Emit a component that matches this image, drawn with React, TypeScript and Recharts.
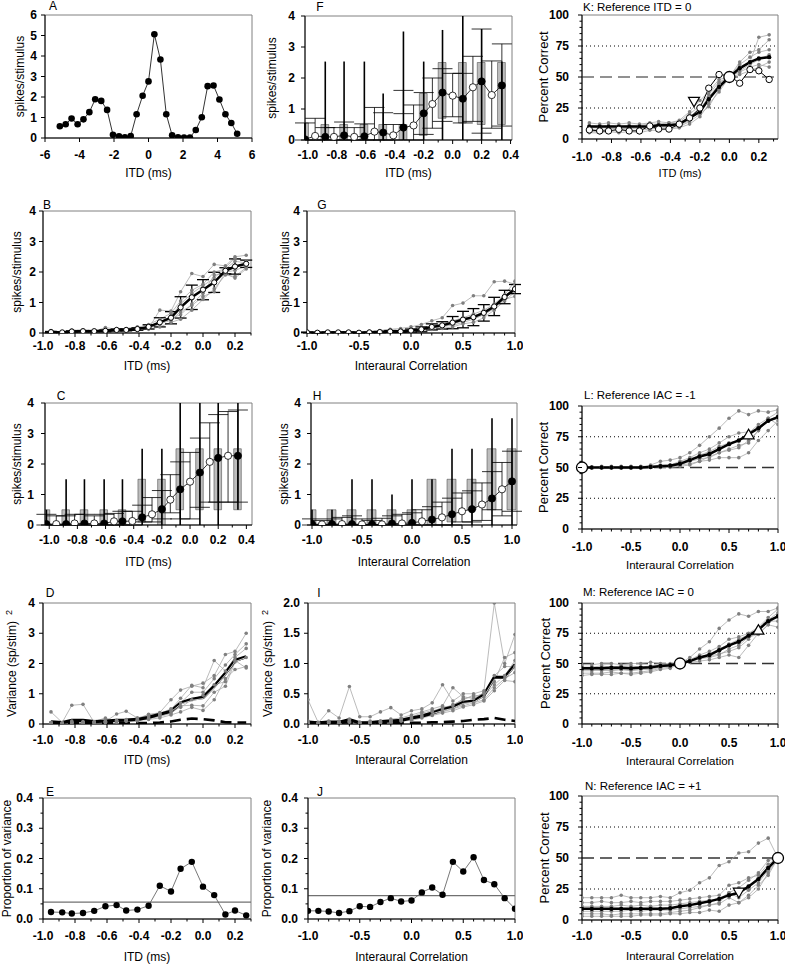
import React from 'react';
import { Bar, ComposedChart, ErrorBar, Line, ReferenceArea, ReferenceDot, ReferenceLine, XAxis, YAxis } from 'recharts';

const FONT = '"Liberation Sans", Arial, Helvetica, sans-serif';

// ---- x values ----
const itdWide = [-5.14, -4.8, -4.46, -4.11, -3.77, -3.43, -3.09, -2.74, -2.4, -2.06, -1.71, -1.37, -1.03, -0.69, -0.34, 0, 0.34, 0.69, 1.03, 1.37, 1.71, 2.06, 2.4, 2.74, 3.09, 3.43, 3.77, 4.11, 4.46, 4.8, 5.14];
const itd19 = [-0.95, -0.88, -0.82, -0.75, -0.68, -0.61, -0.54, -0.48, -0.41, -0.34, -0.27, -0.2, -0.14, -0.07, 0, 0.07, 0.14, 0.2, 0.27];
const itd21 = [-1.02, -0.95, -0.88, -0.82, -0.75, -0.68, -0.61, -0.54, -0.48, -0.41, -0.34, -0.27, -0.2, -0.14, -0.07, 0, 0.07, 0.14, 0.2, 0.27, 0.34];
const iac21 = [-1.0, -0.9, -0.8, -0.7, -0.6, -0.5, -0.4, -0.3, -0.2, -0.1, 0, 0.1, 0.2, 0.3, 0.4, 0.5, 0.6, 0.7, 0.8, 0.9, 1.0];

// ---- ticks ----
const wideTicks = [-6, -4, -2, 0, 2, 4, 6];
const itdTicks = [-1.0, -0.9, -0.8, -0.7, -0.6, -0.5, -0.4, -0.3, -0.2, -0.1, 0, 0.1, 0.2, 0.3];
const itdLabels = [-1.0, -0.8, -0.6, -0.4, -0.2, 0, 0.2];
const itdBoxTicks = [-1.0, -0.9, -0.8, -0.7, -0.6, -0.5, -0.4, -0.3, -0.2, -0.1, 0, 0.1, 0.2, 0.3, 0.4];
const itdBoxLabels = [-1.0, -0.8, -0.6, -0.4, -0.2, 0, 0.2, 0.4];
const iacTicks = [-1.0, -0.9, -0.8, -0.7, -0.6, -0.5, -0.4, -0.3, -0.2, -0.1, 0, 0.1, 0.2, 0.3, 0.4, 0.5, 0.6, 0.7, 0.8, 0.9, 1.0];
const iacLabels = [-1.0, -0.5, 0, 0.5, 1.0];
const rateTicksA = [0, 1, 2, 3, 4, 5, 6];
const spikeTicks = [0, 1, 2, 3, 4];
const varTicksI = [0, 0.5, 1.0, 1.5, 2.0];
const propTicks = [0, 0.05, 0.1, 0.15, 0.2, 0.25, 0.3, 0.35, 0.4];
const propLabels = [0, 0.1, 0.2, 0.3, 0.4];
const pctTicks = [0, 5, 10, 15, 20, 25, 30, 35, 40, 45, 50, 55, 60, 65, 70, 75, 80, 85, 90, 95, 100];
const pctLabels = [0, 25, 50, 75, 100];

// ---- A ----
const aRate = [0.57, 0.67, 0.95, 0.67, 0.91, 1.26, 1.89, 1.81, 1.37, 0.16, 0.08, 0.03, 0.1, 1.16, 2.06, 2.76, 5.06, 3.83, 1.16, 0.13, 0.03, 0.02, 0.02, 0.39, 1.01, 2.53, 2.56, 1.88, 1.16, 0.73, 0.21];

// ---- B ----
const bMean = [0.03, 0.02, 0.05, 0.06, 0.06, 0.07, 0.1, 0.1, 0.13, 0.2, 0.35, 0.5, 0.84, 1.17, 1.42, 1.66, 2.04, 2.18, 2.27];
const bErr = [0.02, 0.01, 0.02, 0.02, 0.02, 0.03, 0.03, 0.03, 0.04, 0.07, 0.15, 0.2, 0.35, 0.4, 0.33, 0.33, 0.1, 0.25, 0.12];
const bG1 = [0.08, 0.03, 0.1, 0.08, 0.05, 0.18, 0.12, 0.15, 0.2, 0.15, 0.75, 0.72, 1.35, 1.95, 1.85, 2.25, 2.2, 2.5, 2.55];
const bG2 = [0.02, 0.01, 0.02, 0.03, 0.05, 0.04, 0.08, 0.06, 0.1, 0.12, 0.2, 0.35, 0.45, 0.75, 1.1, 1.45, 1.9, 1.85, 2.15];
const bG3 = [0.05, 0.03, 0.06, 0.1, 0.08, 0.1, 0.15, 0.12, 0.18, 0.28, 0.45, 0.65, 1.05, 1.4, 1.6, 2.0, 2.1, 2.35, 2.3];
const bG4 = [0.01, 0.01, 0.03, 0.04, 0.03, 0.06, 0.07, 0.09, 0.1, 0.15, 0.3, 0.42, 0.7, 0.9, 1.2, 1.35, 2.0, 2.05, 2.2];
const bG5 = [0.03, 0.02, 0.05, 0.05, 0.07, 0.05, 0.11, 0.1, 0.12, 0.22, 0.28, 0.55, 0.95, 1.3, 1.55, 1.8, 2.15, 2.45, 2.35];
const bG6 = [0.04, 0.02, 0.04, 0.06, 0.08, 0.09, 0.09, 0.12, 0.15, 0.2, 0.38, 0.48, 0.6, 0.95, 1.3, 1.9, 1.95, 1.8, 2.1];

// ---- G ----
const gMean = [0.02, 0.01, 0.02, 0.02, 0.02, 0.01, 0.02, 0.03, 0.05, 0.05, 0.08, 0.12, 0.2, 0.25, 0.34, 0.44, 0.52, 0.66, 0.87, 1.18, 1.44];
const gErr = [0.01, 0.01, 0.01, 0.01, 0.01, 0.01, 0.01, 0.02, 0.03, 0.03, 0.05, 0.08, 0.1, 0.12, 0.2, 0.27, 0.28, 0.27, 0.3, 0.22, 0.15];
const gG1 = [0.02, 0.02, 0.03, 0.03, 0.05, 0.04, 0.06, 0.08, 0.12, 0.15, 0.2, 0.28, 0.4, 0.5, 0.9, 0.98, 1.22, 1.22, 1.68, 1.7, 1.6];
const gG2 = [0.0, 0.01, 0.01, 0.02, 0.01, 0.01, 0.02, 0.02, 0.03, 0.04, 0.05, 0.08, 0.12, 0.15, 0.2, 0.3, 0.35, 0.5, 0.75, 1.05, 1.35];
const gG3 = [0.03, 0.02, 0.03, 0.03, 0.04, 0.02, 0.03, 0.05, 0.08, 0.08, 0.12, 0.15, 0.25, 0.3, 0.4, 0.5, 0.62, 0.75, 0.95, 1.25, 1.7];
const gG4 = [0.01, 0.01, 0.02, 0.02, 0.02, 0.01, 0.02, 0.03, 0.04, 0.05, 0.06, 0.1, 0.15, 0.22, 0.25, 0.35, 0.45, 0.6, 0.8, 1.1, 1.2];
const gG5 = [0.02, 0.02, 0.02, 0.03, 0.03, 0.02, 0.03, 0.04, 0.06, 0.06, 0.1, 0.14, 0.22, 0.28, 0.38, 0.48, 0.55, 0.7, 0.9, 1.2, 1.5];
const gG6 = [0.01, 0.0, 0.01, 0.01, 0.02, 0.01, 0.01, 0.02, 0.04, 0.03, 0.07, 0.1, 0.18, 0.2, 0.3, 0.4, 0.5, 0.62, 0.82, 1.15, 1.45];

// ---- F (box plots, ITD) ----
const fMed = [0.02, 0.13, 0.1, 0.1, 0.15, 0.1, 0.12, 0.27, 0.24, 0.15, 0.4, 0.47, 0.86, 1.16, 1.53, 1.43, 1.33, 1.7, 1.89, 1.45, 1.76];
const fBoxLo = [0, null, 0, null, 0, null, 0, null, 0, null, 0, null, 0.15, null, 0.7, null, 0.55, null, 0.5, null, 0.5];
const fBoxHi = [0.55, null, 0.5, null, 0.5, null, 0.5, null, 0.5, null, 0.5, null, 1.5, null, 2.5, null, 2.5, null, 2.5, null, 2.5];
const fWhLo = [0, null, 0, null, 0, null, 0, null, 0, null, 0, null, 0, null, 0, null, 0, null, 0, null, 0];
const fWhHi = [0.55, null, 2.53, null, 2.53, null, 2.53, null, 1.5, null, 3.5, null, 2.53, null, 3.55, null, 4.0, null, 3.58, null, 2.53];
const fErrLo = [0, 0, 0, 0, 0, 0, 0, 0, 0, 0, 0.85, 0, 0.18, 0.38, 0.6, 0.75, 0.55, 0.6, 0.22, 0.38, 0.45];
const fErrHi = [0.55, 0.7, 0.4, 0.4, 0.58, 0.4, 0.52, 1.05, 0.88, 0.5, 1.6, 1.13, 1.53, 2.0, 2.3, 2.15, 2.15, 2.7, 3.58, 2.55, 3.1];

// ---- C (box plots, ITD) ----
const cMed = [0.03, 0.03, 0.03, 0.05, 0.05, 0.05, 0.05, 0.12, 0.12, 0.13, 0.25, 0.35, 0.52, 0.83, 1.17, 1.42, 1.72, 2.07, 2.2, 2.27, 2.27];
const cBoxLo = [0, null, 0, null, 0, null, 0, null, 0, null, 0.1, null, 0, null, 0.5, null, 0.5, null, 0.5, null, 0.5];
const cBoxHi = [0.5, null, 0.5, null, 0.5, null, 0.5, null, 0.5, null, 1.5, null, 1.5, null, 2.5, null, 2.5, null, 2.5, null, 2.5];
const cWhLo = [0, null, 0, null, 0, null, 0, null, 0, null, 0, null, 0, null, 0, null, 0, null, 0, null, 0.5];
const cWhHi = [0.5, null, 1.5, null, 1.5, null, 1.5, null, 1.5, null, 2.5, null, 2.5, null, 4.0, null, 4.0, null, 4.0, null, 4.0];
const cErrLo = [0, 0, 0, 0, 0, 0, 0, 0, 0, 0, 0.1, 0.1, 0.2, 0.4, 0.2, 0.2, 0.58, 0.75, 0.75, 0.75, 0.75];
const cErrHi = [0.35, 0.3, 0.3, 0.35, 0.35, 0.3, 0.35, 0.38, 0.45, 0.45, 0.65, 0.9, 1.13, 1.65, 2.07, 2.38, 2.85, 3.35, 3.62, 3.72, 3.77];

// ---- H (box plots, IAC) ----
const hMed = [0.03, 0.02, 0.03, 0.03, 0.03, 0.02, 0.02, 0.02, 0.05, 0.05, 0.07, 0.12, 0.18, 0.25, 0.35, 0.45, 0.52, 0.67, 0.87, 1.17, 1.43];
const hBoxLo = [0, null, 0, null, 0, null, 0, null, 0, null, 0, null, 0, null, 0.1, null, 0.5, null, 0.5, null, 0.5];
const hBoxHi = [0.5, null, 0.5, null, 0.5, null, 0.5, null, 0.5, null, 0.5, null, 1.5, null, 1.5, null, 1.5, null, 2.5, null, 2.5];
const hWhLo = [0, null, 0, null, 0, null, 0, null, 0, null, 0, null, 0, null, 0, null, 0, null, 0, null, 0];
const hWhHi = [0.5, null, 0.5, null, 1.5, null, 1.5, null, 1.0, null, 1.5, null, 1.5, null, 2.5, null, 2.5, null, 3.5, null, 3.5];
const hErrLo = [0, 0, 0, 0, 0, 0, 0, 0, 0, 0, 0, 0, 0, 0, 0, 0.1, 0.1, 0.15, 0.5, 0.3, 0.45];
const hErrHi = [0.2, 0.15, 0.2, 0.25, 0.3, 0.2, 0.15, 0.22, 0.3, 0.35, 0.4, 0.5, 0.6, 0.75, 0.88, 1.05, 1.12, 1.38, 1.75, 2.05, 2.42];

// ---- D (variance, ITD) ----
const dMean = [0.07, 0.05, 0.12, 0.12, 0.08, 0.1, 0.12, 0.13, 0.15, 0.22, 0.32, 0.42, 0.7, 0.82, 0.88, 1.25, 1.68, 2.1, 2.22];
const dInner = [null, null, null, null, null, null, null, null, null, null, null, 0.4, 0.66, 0.78, 0.84, 1.2, 1.63, 2.06, 2.2];
const dResid = [0.02, 0.02, 0.02, 0.02, 0.02, 0.02, 0.02, 0.03, 0.03, 0.03, 0.05, 0.08, 0.14, 0.18, 0.16, 0.12, 0.06, 0.05, 0.05];
const dG1 = [0.4, 0.05, 0.62, 0.65, 0.05, 0.08, 0.33, 0.42, 0.2, 0.3, 0.38, 0.8, 1.12, 1.25, 1.35, 1.6, 2.3, 2.4, 3.0];
const dG2 = [0.05, 0.02, 0.05, 0.04, 0.08, 0.2, 0.1, 0.1, 0.15, 0.32, 0.35, 0.5, 0.7, 1.05, 1.05, 1.5, 1.95, 2.3, 2.65];
const dG3 = [0.02, 0.03, 0.1, 0.06, 0.05, 0.05, 0.08, 0.1, 0.12, 0.18, 0.25, 0.35, 0.6, 0.62, 0.6, 1.05, 1.25, 2.05, 2.2];
const dG4 = [0.05, 0.02, 0.03, 0.08, 0.04, 0.06, 0.12, 0.1, 0.12, 0.15, 0.2, 0.3, 0.4, 0.55, 0.45, 0.8, 1.5, 1.8, 1.9];
const dG5 = [0.03, 0.01, 0.05, 0.05, 0.07, 0.08, 0.1, 0.15, 0.2, 0.25, 0.32, 0.48, 0.85, 1.28, 1.2, 2.1, 1.75, 2.2, 2.5];
const dG6 = [0.04, 0.02, 0.06, 0.05, 0.06, 0.1, 0.07, 0.12, 0.1, 0.2, 0.28, 0.42, 0.55, 0.8, 0.95, 1.3, 1.4, 2.1, 1.85];

// ---- I (variance, IAC) ----
const iMean = [0.03, 0.02, 0.03, 0.03, 0.07, 0.02, 0.02, 0.04, 0.05, 0.06, 0.1, 0.13, 0.18, 0.24, 0.28, 0.36, 0.38, 0.48, 0.77, 0.77, 0.98];
const iInner = [null, null, null, null, null, null, null, null, null, null, null, null, 0.17, 0.22, 0.26, 0.34, 0.36, 0.46, 0.74, 0.74, 0.96];
const iResid = [0.02, 0.01, 0.02, 0.02, 0.03, 0.01, 0.01, 0.02, 0.02, 0.02, 0.02, 0.02, 0.03, 0.03, 0.04, 0.05, 0.07, 0.08, 0.1, 0.07, 0.05];
const iG1 = [0.4, 0.02, 0.22, 0.1, 0.62, 0.12, 0.12, 0.2, 0.27, 0.15, 0.22, 0.25, 0.35, 0.65, 0.38, 0.5, 0.5, 0.55, 2.0, 1.0, 1.48];
const iG2 = [0.05, 0.03, 0.05, 0.02, 0.08, 0.03, 0.05, 0.05, 0.08, 0.1, 0.15, 0.2, 0.25, 0.3, 0.6, 0.45, 0.42, 0.52, 0.7, 1.1, 1.18];
const iG3 = [0.02, 0.01, 0.02, 0.04, 0.04, 0.02, 0.03, 0.03, 0.05, 0.05, 0.08, 0.12, 0.15, 0.2, 0.25, 0.3, 0.35, 0.4, 0.6, 0.75, 0.85];
const iG4 = [0.03, 0.02, 0.04, 0.03, 0.05, 0.02, 0.02, 0.04, 0.06, 0.08, 0.12, 0.18, 0.22, 0.25, 0.32, 0.4, 0.48, 0.45, 0.65, 0.8, 1.05];
const iG5 = [0.01, 0.01, 0.02, 0.02, 0.03, 0.01, 0.02, 0.02, 0.04, 0.05, 0.06, 0.1, 0.14, 0.18, 0.22, 0.28, 0.32, 0.38, 0.55, 0.72, 0.7];
const iG6 = [0.02, 0.02, 0.03, 0.03, 0.05, 0.03, 0.03, 0.05, 0.05, 0.07, 0.1, 0.15, 0.2, 0.28, 0.3, 0.42, 0.45, 0.5, 0.8, 0.95, 0.95];

// ---- E, J (proportion of variance) ----
const eProp = [0.023, 0.022, 0.018, 0.02, 0.027, 0.042, 0.046, 0.028, 0.031, 0.044, 0.11, 0.091, 0.166, 0.189, 0.107, 0.079, 0.015, 0.028, 0.012];
const eLevel = 0.056;
const jProp = [0.027, 0.027, 0.025, 0.02, 0.026, 0.042, 0.04, 0.056, 0.069, 0.058, 0.061, 0.088, 0.104, 0.08, 0.189, 0.157, 0.204, 0.129, 0.115, 0.069, 0.034];
const jLevel = 0.077;

// ---- K (percent correct, reference ITD = 0) ----
const kMean = [10, 10, 10, 10, 10, 10, 10, 11, 11, 12, 17, 22, 32, 42, 50, 57, 62, 65, 66];
const kOpen = [7.3, 6.5, 6.5, 7.8, 6.5, 6.5, 10.5, 8, 8, 12, 17, 25, 41, 52, 51, 45, 56, 55, 48];
const kG1 = [13, 12, 13, 12, 13, 12, 13, 14, 13, 15, 22, 31, 38, 48, 50, 58, 62, 82, 84];
const kG2 = [5, 5, 6, 5, 6, 5, 7, 7, 8, 9, 12, 18, 28, 38, 50, 52, 55, 58, 62];
const kG3 = [8, 7, 8, 9, 8, 9, 9, 10, 10, 11, 15, 25, 30, 45, 50, 62, 70, 72, 80];
const kG4 = [11, 10, 11, 10, 11, 11, 12, 12, 13, 14, 20, 27, 36, 46, 50, 55, 60, 64, 68];
const kG5 = [6, 6, 6, 7, 7, 7, 8, 9, 9, 10, 14, 20, 26, 40, 50, 60, 66, 70, 72];
const kG6 = [9, 9, 9, 8, 9, 10, 10, 12, 12, 13, 18, 24, 34, 44, 50, 54, 58, 60, 58];
const kRef = { x: 0, y: 50 };
const kMark = { x: -0.24, y: 30 };

// ---- L (reference IAC = -1) ----
const lMean = [50, 50, 50, 50, 50, 50, 50, 50.5, 51, 51.5, 53, 56, 59, 61, 65, 69, 72, 77, 82, 88, 91];
const lG1 = [50, 50, 51, 50, 50, 51, 50, 52, 55, 56, 58, 62, 68, 75, 82, 90, 96, 93, 96, 95, 97];
const lG2 = [50, 50, 50, 50, 50, 50, 50, 50, 50, 51, 52, 53, 55, 56, 58, 58, 58, 62, 72, 80, 88];
const lG3 = [50, 50, 50, 51, 50, 50, 51, 51, 52, 52, 55, 58, 62, 65, 70, 75, 78, 79, 82, 88, 92];
const lG4 = [50, 50, 50, 50, 50, 50, 50, 50, 51, 51, 52, 55, 57, 58, 62, 65, 68, 70, 80, 90, 95];
const lG5 = [50, 50, 50, 50, 51, 50, 50, 51, 51, 52, 54, 57, 60, 63, 67, 70, 72, 78, 85, 90, 85];
const lG6 = [50, 50, 50, 50, 50, 50, 50, 50, 50, 50, 51, 52, 55, 59, 62, 64, 66, 72, 80, 88, 90];
const lRef = { x: -1, y: 50 };
const lMark = { x: 0.7, y: 77 };

// ---- M (reference IAC = 0) ----
const mMean = [46, 46, 46, 46.5, 46.5, 46, 46.5, 47, 48, 48.5, 50, 52, 55, 57, 61, 65, 68, 73, 78, 85, 89];
const mG1 = [49, 49, 50, 50, 49, 50, 50, 51, 50, 50, 50, 55, 62, 68, 79, 86, 91, 89, 93, 93, 96];
const mG2 = [42, 42, 42, 43, 42, 42, 43, 44, 46, 47, 50, 51, 52, 53, 55, 57, 55, 65, 75, 82, 90];
const mG3 = [44, 44, 45, 44, 45, 44, 45, 45, 47, 48, 50, 52, 54, 56, 58, 60, 63, 70, 78, 85, 85];
const mG4 = [47, 47, 48, 47, 48, 48, 47, 48, 48, 49, 50, 53, 57, 60, 64, 70, 72, 75, 80, 88, 95];
const mG5 = [40, 41, 41, 41, 42, 41, 42, 43, 45, 46, 50, 51, 54, 55, 57, 62, 65, 72, 74, 82, 80];
const mG6 = [45, 45, 44, 45, 45, 45, 46, 46, 47, 48, 50, 52, 55, 58, 62, 66, 70, 74, 79, 86, 92];
const mRef = { x: 0, y: 50 };
const mMark = { x: 0.8, y: 78 };

// ---- N (reference IAC = +1) ----
const nMean = [9, 9, 9, 9, 9, 9, 9, 9, 9, 9.5, 11, 12, 13.5, 15, 17, 20, 22, 27, 33, 42, 50];
const nG1 = [18, 18, 18, 18, 20, 18, 18, 18, 19, 18, 22, 24, 30, 34, 44, 47, 54, 55, 62, 66, 50];
const nG2 = [14, 14, 15, 14, 14, 15, 14, 15, 15, 15, 16, 17, 18, 19, 20, 28, 30, 34, 36, 45, 50];
const nG3 = [5, 5, 5, 4, 5, 5, 5, 5, 5, 6, 7, 8, 10, 12, 14, 22, 26, 32, 38, 48, 50];
const nG4 = [3, 3, 3, 3, 3, 3, 4, 4, 4, 5, 5, 6, 6, 8, 7, 12, 14, 18, 25, 38, 50];
const nG5 = [11, 11, 11, 11, 12, 11, 12, 11, 12, 12, 13, 14, 15, 16, 17, 22, 18, 24, 30, 40, 50];
const nG6 = [7, 7, 7, 7, 7, 8, 7, 8, 8, 8, 9, 10, 11, 12, 13, 18, 14, 20, 28, 36, 50];
const nRef = { x: 1, y: 50 };
const nMark = { x: 0.6, y: 22 };

// ---- layout ----
const ML = 52;
const MT = 18;
const MR = 8;
const MB = 48;
const YW = 30;
const XH = 20;

interface Frame {
  left: number;
  top: number;
  w: number;
  h: number;
  xDomain: [number, number];
  yDomain: [number, number];
  xTicks: number[];
  xLabels: number[];
  xDec: number;
  yTicks: number[];
  yLabels: number[];
  yDec: number;
  xLabelOff: number;
  yLabelGap: number;
  xTitle: string;
  xTitleOff: number;
  xTitleSize?: number;
  yTitle: string;
  ySup?: string;
  yTitleDx: number;
  yTitleSize?: number;
  title: string;
  titleDx: number;
  titleDy: number;
  titleSize?: number;
  titleStart?: boolean;
}

type Row = Record<string, any>;

function rows(xs: number[], cols: Record<string, any[]>): Row[] {
  return xs.map((x, i) => {
    const r: Row = { x };
    for (const k of Object.keys(cols)) r[k] = cols[k][i];
    return r;
  });
}

const near = (list: number[], v: number) => list.some((l) => Math.abs(l - v) < 1e-6);

const tickText = { fontFamily: FONT, fontSize: 12, fontWeight: 700 as const };

function xTick(f: Frame) {
  return (p: any) => {
    const v = p.payload.value;
    const major = near(f.xLabels, v);
    const y0 = MT + f.h;
    return (
      <g>
        <line x1={p.x} x2={p.x} y1={y0} y2={y0 + (major ? 4 : 2.5)} stroke="#000" strokeWidth={1} />
        {major && (
          <text x={p.x} y={y0 + f.xLabelOff} textAnchor="middle" dominantBaseline="central" fill="#000" style={tickText}>
            {v.toFixed(f.xDec)}
          </text>
        )}
      </g>
    );
  };
}

function yTick(f: Frame) {
  return (p: any) => {
    const v = p.payload.value;
    const major = near(f.yLabels, v);
    return (
      <g>
        <line x1={ML - (major ? 4 : 2.5)} x2={ML} y1={p.y} y2={p.y} stroke="#000" strokeWidth={1} />
        {major && (
          <text x={ML - f.yLabelGap} y={p.y} textAnchor="end" dominantBaseline="central" fill="#000" style={tickText}>
            {v.toFixed(f.yDec)}
          </text>
        )}
      </g>
    );
  };
}

function texts(f: Frame) {
  return () => (
    <g fill="#000" style={{ fontFamily: FONT }}>
      <text x={ML + f.w / 2} y={MT + f.h + f.xTitleOff} textAnchor="middle" dominantBaseline="central" fontSize={f.xTitleSize ?? 12}>
        {f.xTitle}
      </text>
      <text
        transform={`translate(${ML - f.yTitleDx},${MT + f.h / 2}) rotate(-90)`}
        textAnchor="middle"
        dominantBaseline="central"
        fontSize={f.yTitleSize ?? 12}
      >
        {f.yTitle}
        {f.ySup && (
          <tspan fontSize={9} dx={6} dy={-3}>
            {f.ySup}
          </tspan>
        )}
      </text>
      <text x={ML + f.titleDx} y={MT + f.titleDy} textAnchor={f.titleStart ? 'start' : 'middle'} dominantBaseline="central" fontSize={f.titleSize ?? 12}>
        {f.title}
      </text>
    </g>
  );
}

function Panel({ f, data, children }: { f: Frame; data: Row[]; children?: React.ReactNode }) {
  const width = ML + f.w + MR;
  const height = MT + f.h + MB;
  return (
    <div style={{ position: 'absolute', left: f.left - ML, top: f.top - MT, width, height }}>
      <ComposedChart width={width} height={height} data={data} margin={{ top: MT, right: MR, bottom: MB - XH, left: ML - YW }}>
        <ReferenceArea x1={f.xDomain[0]} x2={f.xDomain[1]} y1={f.yDomain[0]} y2={f.yDomain[1]} fill="none" stroke="#808080" strokeWidth={1} ifOverflow="visible" />
        <XAxis
          type="number"
          dataKey="x"
          domain={f.xDomain}
          allowDataOverflow
          ticks={f.xTicks}
          interval={0}
          height={XH}
          tickLine={false}
          axisLine={{ stroke: '#000' }}
          tick={xTick(f)}
        />
        <YAxis
          type="number"
          domain={f.yDomain}
          allowDataOverflow
          ticks={f.yTicks}
          interval={0}
          width={YW}
          tickLine={false}
          axisLine={{ stroke: '#000' }}
          tick={yTick(f)}
          label={texts(f)}
        />
        {children}
      </ComposedChart>
    </div>
  );
}

const GRAY_LINE = '#a9a9a9';
const GRAY_DOT = '#808080';

function grayLines(keys: string[]) {
  return keys.map((k) => (
    <Line
      key={k}
      dataKey={k}
      stroke={GRAY_LINE}
      strokeWidth={0.8}
      dot={{ r: 1.8, fill: GRAY_DOT, stroke: 'none' }}
      activeDot={false}
      isAnimationActive={false}
    />
  ));
}

const G_KEYS = ['g1', 'g2', 'g3', 'g4', 'g5', 'g6'];

function boxRows(xs: number[], med: number[], boxLo: any[], boxHi: any[], whLo: any[], whHi: any[], errLo: number[], errHi: number[]) {
  return rows(xs, {
    med,
    box: boxLo.map((lo, i) => (lo == null ? null : [lo, boxHi[i]])),
    wh: whLo,
    whErr: whLo.map((lo, i) => (lo == null ? null : [0, whHi[i] - lo])),
    e: errLo,
    eErr: errLo.map((lo, i) => [0, errHi[i] - lo]),
  });
}

function BoxPanel({ f, data, barSize }: { f: Frame; data: Row[]; barSize: number }) {
  return (
    <Panel f={f} data={data}>
      <Bar dataKey="box" barSize={barSize} fill="#bdbdbd" stroke="#3a3a3a" strokeWidth={0.5} isAnimationActive={false} />
      <Line dataKey="wh" stroke="none" dot={false} activeDot={false} isAnimationActive={false}>
        <ErrorBar dataKey="whErr" width={0} stroke="#000" strokeWidth={1.6} direction="y" />
      </Line>
      <Line dataKey="e" stroke="none" dot={false} activeDot={false} isAnimationActive={false}>
        <ErrorBar dataKey="eErr" width={10} stroke="#000" strokeWidth={0.8} direction="y" />
      </Line>
      <Line
        dataKey="med"
        stroke="#000"
        strokeWidth={0.8}
        activeDot={false}
        isAnimationActive={false}
        dot={(p: any) => (
          <circle key={p.index} cx={p.cx} cy={p.cy} r={3.6} fill={p.index % 2 === 0 ? '#000' : '#fff'} stroke="#000" strokeWidth={0.8} />
        )}
      />
    </Panel>
  );
}

const triangle = (down: boolean) => (p: any) => {
  const s = down ? 1 : -1;
  return (
    <path
      d={`M${p.cx - 5.5},${p.cy - 4.5 * s} L${p.cx + 5.5},${p.cy - 4.5 * s} L${p.cx},${p.cy + 5 * s} Z`}
      fill="#fff"
      stroke="#000"
      strokeWidth={1.2}
    />
  );
};

function PctPanel({ f, data, refPt, mark, down, chanceColor }: { f: Frame; data: Row[]; refPt: { x: number; y: number }; mark: { x: number; y: number }; down: boolean; chanceColor: string }) {
  return (
    <Panel f={f} data={data}>
      <ReferenceLine y={25} stroke="#000" strokeWidth={1} strokeDasharray="1 3" />
      <ReferenceLine y={75} stroke="#000" strokeWidth={1} strokeDasharray="1 3" />
      <ReferenceLine y={50} stroke={chanceColor} strokeWidth={1.5} strokeDasharray="12 6" />
      {grayLines(G_KEYS)}
      <Line dataKey="m" stroke="#000" strokeWidth={2.5} dot={{ r: 2.2, fill: '#000', stroke: 'none' }} activeDot={false} isAnimationActive={false} />
      {data[0].o !== undefined && (
        <Line dataKey="o" stroke="#000" strokeWidth={1} dot={{ r: 3.2, fill: '#fff', stroke: '#000', strokeWidth: 1 }} activeDot={false} isAnimationActive={false} />
      )}
      <ReferenceDot x={mark.x} y={mark.y} r={5} shape={triangle(down)} />
      <ReferenceDot x={refPt.x} y={refPt.y} r={5.5} fill="#fff" stroke="#000" strokeWidth={1.3} />
    </Panel>
  );
}

function VarPanel({ f, data }: { f: Frame; data: Row[] }) {
  return (
    <Panel f={f} data={data}>
      {grayLines(G_KEYS)}
      <Line dataKey="d" stroke="#000" strokeWidth={2.6} strokeDasharray="11 6" dot={false} activeDot={false} isAnimationActive={false} />
      <Line dataKey="m" stroke="#000" strokeWidth={3.2} dot={false} activeDot={false} isAnimationActive={false} />
      <Line dataKey="inner" stroke="#fff" strokeWidth={0.8} dot={false} activeDot={false} isAnimationActive={false} />
    </Panel>
  );
}

function PropPanel({ f, data, level }: { f: Frame; data: Row[]; level: number }) {
  return (
    <Panel f={f} data={data}>
      <ReferenceLine y={level} stroke="#707070" strokeWidth={1.2} />
      <Line dataKey="p" stroke="#555" strokeWidth={0.8} dot={{ r: 3.2, fill: '#000', stroke: 'none' }} activeDot={false} isAnimationActive={false} />
    </Panel>
  );
}

const base = { xTicks: itdTicks, xLabels: itdLabels, xDec: 1, yDec: 0 };

const fA: Frame = { ...base, left: 45, top: 15, w: 207, h: 123, xDomain: [-6, 6], yDomain: [0, 6], xTicks: wideTicks, xLabels: wideTicks, xDec: 0, yTicks: rateTicksA, yLabels: rateTicksA, xLabelOff: 17, yLabelGap: 8, xTitle: 'ITD (ms)', xTitleOff: 35, yTitle: 'spikes/stimulus', yTitleDx: 25, title: 'A', titleDx: 8, titleDy: -9 };
const fF: Frame = { ...base, left: 305, top: 16, w: 207, h: 124, xDomain: [-1.02, 0.41], yDomain: [0, 4], xTicks: itdBoxTicks, xLabels: itdBoxLabels, yTicks: spikeTicks, yLabels: spikeTicks, xLabelOff: 15, yLabelGap: 10, xTitle: 'ITD (ms)', xTitleOff: 33, yTitle: 'spikes/stimulus', yTitleDx: 33, title: 'F', titleDx: 15, titleDy: -9 };
const fK: Frame = { ...base, left: 582, top: 15, w: 196, h: 124, xDomain: [-1.0, 0.33], yDomain: [0, 100], yTicks: pctTicks, yLabels: pctLabels, xLabelOff: 18, yLabelGap: 13, xTitle: 'ITD (ms)', xTitleOff: 34, xTitleSize: 11, yTitle: 'Percent Correct', yTitleDx: 39, yTitleSize: 13, title: 'K: Reference ITD = 0', titleDx: 1, titleDy: -8, titleSize: 11.5, titleStart: true };
const fB: Frame = { ...base, left: 43, top: 211, w: 208, h: 122, xDomain: [-1.0, 0.3], yDomain: [0, 4], yTicks: spikeTicks, yLabels: spikeTicks, xLabelOff: 13, yLabelGap: 7, xTitle: 'ITD (ms)', xTitleOff: 33, yTitle: 'spikes/stimulus', yTitleDx: 26, title: 'B', titleDx: 4, titleDy: -6 };
const fG: Frame = { ...base, left: 307, top: 211, w: 208, h: 122, xDomain: [-1.0, 1.0], yDomain: [0, 4], xTicks: iacTicks, xLabels: iacLabels, yTicks: spikeTicks, yLabels: spikeTicks, xLabelOff: 13, yLabelGap: 7, xTitle: 'Interaural Correlation', xTitleOff: 33, yTitle: 'spikes/stimulus', yTitleDx: 22, title: 'G', titleDx: 15, titleDy: -6 };
const fC: Frame = { ...base, left: 45, top: 403, w: 207, h: 122, xDomain: [-1.03, 0.44], yDomain: [0, 4], xTicks: itdBoxTicks, xLabels: itdBoxLabels, yTicks: spikeTicks, yLabels: spikeTicks, xLabelOff: 15, yLabelGap: 11, xTitle: 'ITD (ms)', xTitleOff: 37, yTitle: 'spikes/stimulus', yTitleDx: 28, title: 'C', titleDx: 16, titleDy: -7 };
const fH: Frame = { ...base, left: 311, top: 403, w: 206, h: 122, xDomain: [-1.01, 1.05], yDomain: [0, 4], xTicks: iacTicks, xLabels: iacLabels, yTicks: spikeTicks, yLabels: spikeTicks, xLabelOff: 15, yLabelGap: 10, xTitle: 'Interaural Correlation', xTitleOff: 37, yTitle: 'spikes/stimulus', yTitleDx: 27, title: 'H', titleDx: 6, titleDy: -7 };
const fL: Frame = { ...base, left: 582, top: 406, w: 196, h: 123, xDomain: [-1.0, 1.0], yDomain: [0, 100], xTicks: iacTicks, xLabels: iacLabels, yTicks: pctTicks, yLabels: pctLabels, xLabelOff: 18, yLabelGap: 13, xTitle: 'Interaural Correlation', xTitleOff: 36, xTitleSize: 11.5, yTitle: 'Percent Correct', yTitleDx: 39, yTitleSize: 13, title: 'L: Reference IAC = -1', titleDx: 2, titleDy: -11, titleSize: 11.5, titleStart: true };
const fD: Frame = { ...base, left: 43, top: 603, w: 208, h: 121, xDomain: [-1.0, 0.3], yDomain: [0, 4], yTicks: spikeTicks, yLabels: spikeTicks, xLabelOff: 16, yLabelGap: 8, xTitle: 'ITD (ms)', xTitleOff: 36, yTitle: 'Variance (sp/stim)', ySup: '2', yTitleDx: 31, title: 'D', titleDx: 7, titleDy: -10 };
const fI: Frame = { ...base, left: 308, top: 603, w: 207, h: 121, xDomain: [-1.0, 1.0], yDomain: [0, 2], xTicks: iacTicks, xLabels: iacLabels, yTicks: varTicksI, yLabels: varTicksI, yDec: 1, xLabelOff: 16, yLabelGap: 8, xTitle: 'Interaural Correlation', xTitleOff: 36, yTitle: 'Variance (sp/stim)', ySup: '2', yTitleDx: 40, title: 'I', titleDx: 11, titleDy: -10 };
const fM: Frame = { ...base, left: 582, top: 603, w: 196, h: 121, xDomain: [-1.0, 1.0], yDomain: [0, 100], xTicks: iacTicks, xLabels: iacLabels, yTicks: pctTicks, yLabels: pctLabels, xLabelOff: 19, yLabelGap: 13, xTitle: 'Interaural Correlation', xTitleOff: 37, xTitleSize: 11.5, yTitle: 'Percent Correct', yTitleDx: 37, yTitleSize: 13, title: 'M: Reference IAC = 0', titleDx: 1, titleDy: -11, titleSize: 11.5, titleStart: true };
const fE: Frame = { ...base, left: 43, top: 798, w: 208, h: 121, xDomain: [-1.0, 0.3], yDomain: [0, 0.4], yTicks: propTicks, yLabels: propLabels, yDec: 1, xLabelOff: 17, yLabelGap: 10, xTitle: 'ITD (ms)', xTitleOff: 38, yTitle: 'Proportion of variance', yTitleDx: 36, title: 'E', titleDx: 7, titleDy: -6 };
const fJ: Frame = { ...base, left: 308, top: 798, w: 207, h: 121, xDomain: [-1.0, 1.0], yDomain: [0, 0.4], xTicks: iacTicks, xLabels: iacLabels, yTicks: propTicks, yLabels: propLabels, yDec: 1, xLabelOff: 17, yLabelGap: 10, xTitle: 'Interaural Correlation', xTitleOff: 38, yTitle: 'Proportion of variance', yTitleDx: 41, title: 'J', titleDx: 12, titleDy: -6 };
const fN: Frame = { ...base, left: 582, top: 796, w: 196, h: 124, xDomain: [-1.0, 1.0], yDomain: [0, 100], xTicks: iacTicks, xLabels: iacLabels, yTicks: pctTicks, yLabels: pctLabels, xLabelOff: 16, yLabelGap: 13, xTitle: 'Interaural Correlation', xTitleOff: 36, xTitleSize: 11.5, yTitle: 'Percent Correct', yTitleDx: 38, yTitleSize: 13, title: 'N: Reference IAC = +1', titleDx: 3, titleDy: -10, titleSize: 11.5, titleStart: true };

export default function App() {
  return (
    <div style={{ position: 'absolute', left: 0, top: 0, width: 785, height: 966, background: '#fff', overflow: 'hidden' }}>
      <Panel f={fA} data={rows(itdWide, { a: aRate })}>
        <Line dataKey="a" stroke="#000" strokeWidth={0.8} dot={{ r: 3.3, fill: '#000', stroke: 'none' }} activeDot={false} isAnimationActive={false} />
      </Panel>
      <BoxPanel f={fF} data={boxRows(itd21, fMed, fBoxLo, fBoxHi, fWhLo, fWhHi, fErrLo, fErrHi)} barSize={10} />
      <PctPanel
        f={fK}
        data={rows(itd19, { g1: kG1, g2: kG2, g3: kG3, g4: kG4, g5: kG5, g6: kG6, m: kMean, o: kOpen })}
        refPt={kRef}
        mark={kMark}
        down
        chanceColor="#6e6e6e"
      />

      <Panel f={fB} data={rows(itd19, { g1: bG1, g2: bG2, g3: bG3, g4: bG4, g5: bG5, g6: bG6, m: bMean, err: bErr })}>
        {grayLines(G_KEYS)}
        <Line dataKey="m" stroke="#000" strokeWidth={2.5} dot={{ r: 2.6, fill: '#fff', stroke: '#000', strokeWidth: 1 }} activeDot={false} isAnimationActive={false}>
          <ErrorBar dataKey="err" width={6} stroke="#000" strokeWidth={1.3} direction="y" />
        </Line>
      </Panel>
      <Panel f={fG} data={rows(iac21, { g1: gG1, g2: gG2, g3: gG3, g4: gG4, g5: gG5, g6: gG6, m: gMean, err: gErr })}>
        {grayLines(G_KEYS)}
        <Line dataKey="m" stroke="#000" strokeWidth={2.5} dot={{ r: 2.6, fill: '#fff', stroke: '#000', strokeWidth: 1 }} activeDot={false} isAnimationActive={false}>
          <ErrorBar dataKey="err" width={6} stroke="#000" strokeWidth={1.3} direction="y" />
        </Line>
      </Panel>

      <BoxPanel f={fC} data={boxRows(itd21, cMed, cBoxLo, cBoxHi, cWhLo, cWhHi, cErrLo, cErrHi)} barSize={10} />
      <BoxPanel f={fH} data={boxRows(iac21, hMed, hBoxLo, hBoxHi, hWhLo, hWhHi, hErrLo, hErrHi)} barSize={10} />
      <PctPanel
        f={fL}
        data={rows(iac21, { g1: lG1, g2: lG2, g3: lG3, g4: lG4, g5: lG5, g6: lG6, m: lMean })}
        refPt={lRef}
        mark={lMark}
        down={false}
        chanceColor="#333"
      />

      <VarPanel f={fD} data={rows(itd19, { g1: dG1, g2: dG2, g3: dG3, g4: dG4, g5: dG5, g6: dG6, m: dMean, inner: dInner, d: dResid })} />
      <VarPanel f={fI} data={rows(iac21, { g1: iG1, g2: iG2, g3: iG3, g4: iG4, g5: iG5, g6: iG6, m: iMean, inner: iInner, d: iResid })} />
      <PctPanel
        f={fM}
        data={rows(iac21, { g1: mG1, g2: mG2, g3: mG3, g4: mG4, g5: mG5, g6: mG6, m: mMean })}
        refPt={mRef}
        mark={mMark}
        down={false}
        chanceColor="#333"
      />

      <PropPanel f={fE} data={rows(itd19, { p: eProp })} level={eLevel} />
      <PropPanel f={fJ} data={rows(iac21, { p: jProp })} level={jLevel} />
      <PctPanel
        f={fN}
        data={rows(iac21, { g1: nG1, g2: nG2, g3: nG3, g4: nG4, g5: nG5, g6: nG6, m: nMean })}
        refPt={nRef}
        mark={nMark}
        down
        chanceColor="#333"
      />
    </div>
  );
}
